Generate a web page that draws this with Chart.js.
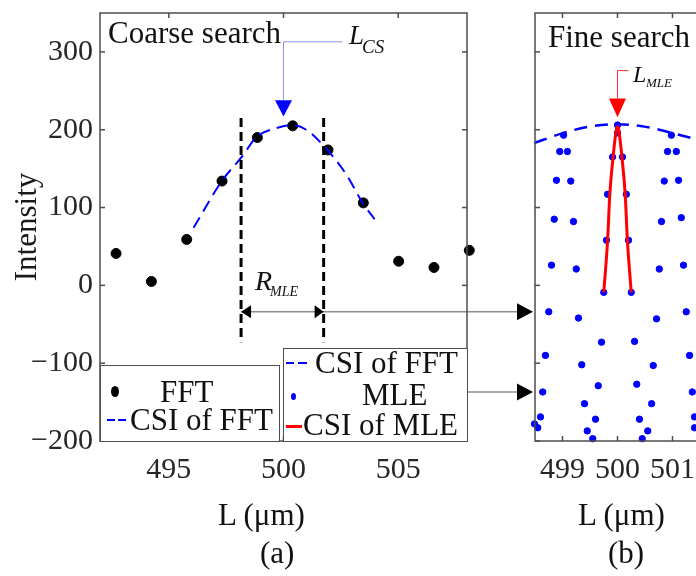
<!DOCTYPE html>
<html>
<head>
<meta charset="utf-8">
<title>Coarse and fine search</title>
<script src="https://cdn.jsdelivr.net/npm/chart.js@4.4.1/dist/chart.umd.min.js"></script>
<style>
  html, body { margin: 0; padding: 0; background: #fff; }
  body { position: relative; width: 696px; height: 576px; overflow: hidden; font-family: 'Liberation Serif', 'Times New Roman', serif; }
  canvas { position: absolute; top: 0; }
  #coarse { left: 0; }
  #fine { left: 520px; }
  .txt { position: absolute; white-space: nowrap; line-height: 1; font-size: 31px; color: #111; }
  .it { font-style: italic; }
  .box { position: absolute; background: #fff; border: 1.5px solid #4d4d4d; box-sizing: border-box; }
  .sym { position: absolute; }
</style>
</head>
<body>
<canvas id="coarse" width="540" height="576"></canvas>
<canvas id="fine" width="230" height="576"></canvas>

<!-- panel titles and markers -->
<div class="txt" style="left:108px;top:17px">Coarse search</div>
<div class="txt" style="left:548px;top:21px">Fine search</div>
<div class="txt it" style="left:349px;top:22px;font-size:27px">L</div>
<div class="txt it" style="left:362px;top:37px;font-size:19px">CS</div>
<div class="txt it" style="left:255px;top:267px;font-size:28px">R</div>
<div class="txt it" style="left:270px;top:285px;font-size:14px">MLE</div>
<div class="txt it" style="left:633px;top:62px;font-size:24px">L</div>
<div class="txt it" style="left:646px;top:76px;font-size:13px">MLE</div>

<!-- legends -->
<div class="box" style="left:100px;top:365px;width:180px;height:77px"></div>
<div class="sym" style="left:111px;top:386px;width:8px;height:11px;border-radius:50%;background:#000"></div>
<div class="txt" style="left:160px;top:376px">FFT</div>
<div class="sym" style="left:107px;top:419px;width:8px;height:2px;background:#0000ff"></div>
<div class="sym" style="left:118px;top:419px;width:8px;height:2px;background:#0000ff"></div>
<div class="txt" style="left:130px;top:404px">CSI of FFT</div>

<div class="box" style="left:283px;top:348px;width:185px;height:94px"></div>
<div class="sym" style="left:286px;top:362px;width:8px;height:2px;background:#0000ff"></div>
<div class="sym" style="left:298px;top:362px;width:9px;height:2px;background:#0000ff"></div>
<div class="txt" style="left:315px;top:347px">CSI of FFT</div>
<div class="sym" style="left:291px;top:393px;width:5px;height:7px;border-radius:50%;background:#0000ff"></div>
<div class="txt" style="left:362px;top:379px">MLE</div>
<div class="sym" style="left:286px;top:425px;width:16px;height:3px;background:#ff0000"></div>
<div class="txt" style="left:303px;top:409px">CSI of MLE</div>

<!-- axis titles -->
<div class="txt" style="left:218px;top:499px">L (μm)</div>
<div class="txt" style="left:260px;top:537px">(a)</div>
<div class="txt" style="left:578px;top:499px">L (μm)</div>
<div class="txt" style="left:608px;top:537px">(b)</div>

<script>
// FFT samples (coarse search)
const fftL = [492.7, 494.24, 495.78, 497.32, 498.86, 500.4, 501.94, 503.48, 505.02, 506.56, 508.1];
const fftI = [41, 5, 59, 134, 190, 205, 174, 106, 31, 23, 45];

// cubic spline of the FFT peak
const csiFftL = [496.08, 497.31, 498.18, 498.84, 499.68, 500.38, 500.99, 501.91, 502.75, 503.45, 503.97];
const csiFftI = [74, 134, 165, 191, 202, 206, 200, 174, 142, 106, 85];

// same curve as seen in panel (b)
const fineCsiFftL = [498.49, 499.02, 499.49, 500.0, 500.49, 500.98, 501.42];
const fineCsiFftI = [183, 196, 204, 207, 204, 196, 188];

// MLE samples (fine search)
const mleL = [499.02, 500.0, 500.0, 500.98,
  498.95, 499.09, 499.91, 500.09, 500.91, 501.07,
  498.89, 499.15, 499.82, 500.16, 500.85, 501.11,
  498.85, 499.2, 500.8, 501.16, 499.8, 500.2,
  498.8, 499.25, 500.76, 501.2, 499.75, 500.25,
  498.75, 499.29, 500.71, 501.25, 499.71, 500.31,
  498.69, 499.35, 500.65, 501.31, 499.65, 500.35,
  498.64, 499.4, 500.62, 501.36, 498.6, 499.6, 500.4, 501.4,
  498.49, 498.55, 499.45, 500.55, 501.4, 499.55, 500.45];
const mleI = [193, 206, 196, 193,
  172, 172, 165, 165, 172, 172,
  135, 134, 117, 117, 134, 135,
  85, 82, 82, 87, 58, 58,
  26, 21, 21, 26, -9, -9,
  -34, -42, -43, -34, -73, -72,
  -90, -102, -103, -90, -129, -127,
  -137, -152, -152, -137, -169, -172, -172, -169,
  -178, -183, -187, -187, -183, -197, -197];

// spline through the central MLE samples
const csiMleL = [499.75, 499.82, 499.86, 499.92, 499.97, 500.0, 500.03, 500.08, 500.14, 500.18, 500.25];
const csiMleI = [-9, 58, 117, 165, 196, 206, 196, 165, 117, 58, -9];

const coarseTicks = [495, 500, 505];
const fineTicks = [499, 500, 501];
const intensityTicks = [-200, -100, 0, 100, 200, 300];
const intensityLabels = ['−200', '−100', '0', '100', '200', '300'];

// markers
const rMle = [498.15, 501.75];
const lcs = 500.0;
const lmle = 500.0;

Chart.defaults.font.family = "'Liberation Serif', 'Times New Roman', serif";
Chart.defaults.color = '#262626';

const pts = (xs, ys) => xs.map((x, i) => ({ x, y: ys[i] }));

function seg(ctx, x1, y1, x2, y2) {
    ctx.beginPath(); ctx.moveTo(x1, y1); ctx.lineTo(x2, y2); ctx.stroke();
}
function tri(ctx, p) {
    ctx.beginPath(); ctx.moveTo(p[0][0], p[0][1]);
    ctx.lineTo(p[1][0], p[1][1]); ctx.lineTo(p[2][0], p[2][1]);
    ctx.closePath(); ctx.fill();
}

// box with inward ticks on all four sides
function drawFrame(chart) {
    const { ctx, chartArea: a, scales: { x, y } } = chart;
    ctx.save();
    ctx.strokeStyle = '#4d4d4d';
    ctx.lineWidth = 1.5;
    ctx.strokeRect(a.left, a.top, a.right - a.left, a.bottom - a.top);
    x.ticks.forEach(t => {
        const px = x.getPixelForValue(t.value);
        seg(ctx, px, a.bottom, px, a.bottom - 5);
        seg(ctx, px, a.top, px, a.top + 5);
    });
    y.ticks.forEach(t => {
        const py = y.getPixelForValue(t.value);
        seg(ctx, a.left, py, a.left + 5, py);
        seg(ctx, a.right, py, a.right - 5, py);
    });
    ctx.restore();
}

const coarseDecor = {
    id: 'coarseDecor',
    afterDatasetsDraw(chart) {
        const { ctx, chartArea: a, scales: { x, y } } = chart;
        ctx.save();
        // R_MLE bounds
        ctx.strokeStyle = '#000';
        ctx.lineWidth = 3;
        ctx.setLineDash([9, 5]);
        rMle.forEach(v => {
            const px = x.getPixelForValue(v);
            seg(ctx, px, y.getPixelForValue(215), px, y.getPixelForValue(-73));
        });
        ctx.setLineDash([]);

        // arrows towards the fine search
        const yA = y.getPixelForValue(-34), yB = y.getPixelForValue(-137);
        const xl = x.getPixelForValue(rMle[0]), xr = x.getPixelForValue(rMle[1]);
        const tip = a.right + 66;
        ctx.strokeStyle = '#8c8c8c';
        ctx.lineWidth = 1.5;
        seg(ctx, xl, yA, tip - 14, yA);
        seg(ctx, a.right + 1, yB, tip - 14, yB);
        ctx.fillStyle = '#000';
        tri(ctx, [[xl, yA], [xl + 10, yA - 6.5], [xl + 10, yA + 6.5]]);
        tri(ctx, [[xr, yA], [xr - 9, yA - 6.5], [xr - 9, yA + 6.5]]);
        tri(ctx, [[tip, yA], [tip - 16, yA - 8.5], [tip - 16, yA + 8.5]]);
        tri(ctx, [[tip, yB], [tip - 16, yB - 8.5], [tip - 16, yB + 8.5]]);

        // L_CS marker
        const xc = x.getPixelForValue(lcs);
        const yLead = y.getPixelForValue(313), yHead = y.getPixelForValue(238);
        ctx.strokeStyle = '#9090ff';
        ctx.lineWidth = 1;
        seg(ctx, xc, yLead, xc + 59, yLead);
        seg(ctx, xc, yLead, xc, yHead);
        ctx.fillStyle = '#0000ff';
        tri(ctx, [[xc - 8.5, yHead], [xc + 8.5, yHead], [xc, y.getPixelForValue(217)]]);
        ctx.restore();
        drawFrame(chart);
    }
};

const fineDecor = {
    id: 'fineDecor',
    afterDatasetsDraw(chart) {
        const { ctx, scales: { x, y } } = chart;
        ctx.save();
        const xm = x.getPixelForValue(lmle);
        const yLead = y.getPixelForValue(276), yHead = y.getPixelForValue(240);
        ctx.strokeStyle = '#ff3030';
        ctx.lineWidth = 1;
        seg(ctx, xm, yLead, xm + 11, yLead);
        seg(ctx, xm, yLead, xm, yHead);
        ctx.fillStyle = '#ff0000';
        tri(ctx, [[xm - 8.5, yHead], [xm + 8.5, yHead], [xm, y.getPixelForValue(216)]]);
        ctx.restore();
        drawFrame(chart);
    }
};

function yScale(showLabels, width) {
    return {
        type: 'linear',
        min: -200,
        max: 350,
        afterBuildTicks: s => { s.ticks = intensityTicks.map(v => ({ value: v })); },
        afterFit: s => { s.width = width; s.paddingTop = 0; s.paddingBottom = 0; },
        grid: { display: false, drawTicks: false },
        border: { display: false },
        ticks: {
            display: showLabels,
            padding: 7,
            font: { size: 30 },
            callback: v => intensityLabels[intensityTicks.indexOf(v)]
        },
        title: {
            display: showLabels,
            text: 'Intensity',
            color: '#1a1a1a',
            font: { size: 31 },
            padding: { top: 9, bottom: 0 }
        }
    };
}

function xScale(min, max, tickVals) {
    return {
        type: 'linear',
        min: min,
        max: max,
        afterBuildTicks: s => { s.ticks = tickVals.map(v => ({ value: v })); },
        afterFit: s => { s.height = 131; s.paddingLeft = 0; s.paddingRight = 0; },
        grid: { display: false, drawTicks: false },
        border: { display: false },
        ticks: { padding: 11, font: { size: 30 }, maxRotation: 0, callback: v => String(v) }
    };
}

new Chart(document.getElementById('coarse'), {
    type: 'scatter',
    data: {
        datasets: [
            {
                label: 'CSI of FFT',
                data: pts(csiFftL, csiFftI),
                showLine: true,
                borderColor: '#0000ff',
                borderWidth: 2,
                borderDash: [12, 7],
                cubicInterpolationMode: 'monotone',
                pointRadius: 0
            },
            {
                label: 'FFT',
                data: pts(fftL, fftI),
                pointRadius: 5,
                backgroundColor: '#000',
                borderColor: '#000',
                clip: false
            }
        ]
    },
    options: {
        responsive: false,
        animation: false,
        layout: { padding: { left: 0, right: 73, top: 13, bottom: 4 } },
        plugins: { legend: { display: false }, tooltip: { enabled: false } },
        scales: { x: xScale(492, 508, coarseTicks), y: yScale(true, 100) }
    },
    plugins: [coarseDecor]
});

new Chart(document.getElementById('fine'), {
    type: 'scatter',
    data: {
        datasets: [
            {
                label: 'CSI of FFT',
                data: pts(fineCsiFftL, fineCsiFftI),
                showLine: true,
                borderColor: '#0000ff',
                borderWidth: 2.5,
                borderDash: [13, 8],
                cubicInterpolationMode: 'monotone',
                pointRadius: 0,
                clip: false
            },
            {
                label: 'CSI of MLE',
                data: pts(csiMleL, csiMleI),
                showLine: true,
                borderColor: '#ff0000',
                borderWidth: 3,
                cubicInterpolationMode: 'monotone',
                pointRadius: 0
            },
            {
                label: 'MLE',
                data: pts(mleL, mleI),
                pointRadius: 3.2,
                backgroundColor: '#0000ff',
                borderColor: '#0000ff',
                clip: false
            }
        ]
    },
    options: {
        responsive: false,
        animation: false,
        layout: { padding: { left: 15, right: 39, top: 13, bottom: 4 } },
        plugins: { legend: { display: false }, tooltip: { enabled: false } },
        scales: { x: xScale(498.5, 501.7, fineTicks), y: yScale(false, 0) }
    },
    plugins: [fineDecor]
});
</script>
</body>
</html>
